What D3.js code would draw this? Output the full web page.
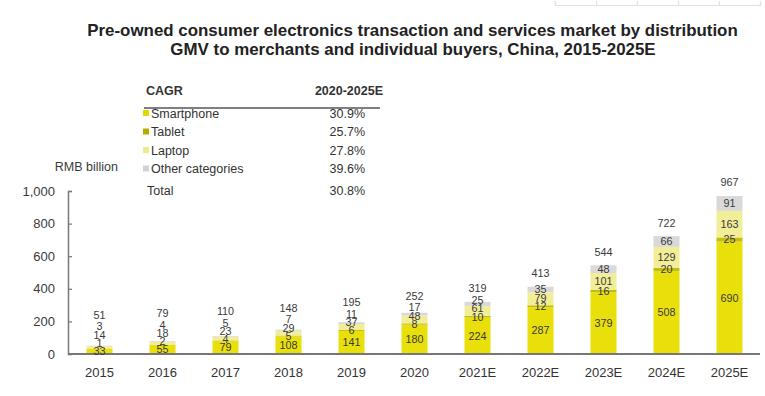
<!DOCTYPE html>
<html><head><meta charset="utf-8">
<script src="https://cdn.jsdelivr.net/npm/d3@7"></script>
<style>
html,body{margin:0;padding:0;background:#fff;}
svg{display:block;font-family:"Liberation Sans",Arial,Helvetica,sans-serif;}
</style></head>
<body>
<svg id="chart" width="765" height="396"></svg>
<script>
const categories = ["2015","2016","2017","2018","2019","2020","2021E","2022E","2023E","2024E","2025E"];
const smartphone = [33,55,79,108,141,180,224,287,379,508,690];
const tablet     = [1,2,4,5,6,8,10,12,16,20,25];
const laptop     = [14,18,23,29,37,48,61,79,101,129,163];
const other      = [3,4,5,7,11,17,25,35,48,66,91];
const totals     = [51,79,110,148,195,252,319,413,544,722,967];
const seriesNames = ["Smartphone","Tablet","Laptop","Other categories"];
const cagr = ["30.9%","25.7%","27.8%","39.6%"];
const cagrTotal = "30.8%";
const yTicks = [0,200,400,600,800,1000];

const colors = ["#e9df0a","#c2bd0e","#f2ee98","#d9d9d9"];
const legendColors = ["#e3d800","#b3ad00","#eeea8a","#d2d2d2"];

const svg = d3.select("#chart");
const x = d3.scaleBand().domain(categories).range([68,761]).paddingInner(0.587).paddingOuter(0.2935);
const y = d3.scaleLinear().domain([0,1000]).range([354,191]);

// faint decoration at top right
const deco = d3.scaleLinear().domain([0,5]).range([555,760]);
const dg = svg.append("g").attr("transform","translate(0,5)");
dg.call(d3.axisTop(deco).ticks(5).tickSize(4).tickFormat(""));
dg.selectAll("path,line").attr("stroke","#e2e2e2").attr("stroke-width",1.2);

// title
svg.append("text").attr("x",412.5).attr("y",36).attr("text-anchor","middle")
  .attr("font-size",16.9).attr("font-weight","bold").attr("fill","#222")
  .text("Pre-owned consumer electronics transaction and services market by distribution");
svg.append("text").attr("x",413).attr("y",54.5).attr("text-anchor","middle")
  .attr("font-size",16.9).attr("font-weight","bold").attr("fill","#222")
  .text("GMV to merchants and individual buyers, China, 2015-2025E");

// y axis
const ya = svg.append("g").attr("transform","translate(68,0)")
  .call(d3.axisRight(y).tickValues(yTicks).tickSize(4).tickFormat(""));
ya.select(".domain").attr("stroke","#777").attr("stroke-width",1.5);
ya.selectAll(".tick line").attr("stroke","#777").attr("stroke-width",1.2);
svg.append("g").selectAll("text").data(yTicks).join("text")
  .attr("x",55).attr("y",d=>y(d)).attr("dy","0.36em").attr("text-anchor","end")
  .attr("font-size",13).attr("fill","#3a3a3a").text(d=>d3.format(",")(d));
svg.append("text").attr("x",118).attr("y",171).attr("text-anchor","end")
  .attr("font-size",12.5).attr("fill","#3a3a3a").text("RMB billion");

// stacked bars
const rows = categories.map((c,i)=>({cat:c, Smartphone:smartphone[i], Tablet:tablet[i], Laptop:laptop[i], "Other categories":other[i], total:totals[i]}));
const stack = d3.stack().keys(seriesNames)(rows);
const gBars = svg.append("g");
stack.forEach((layer,k)=>{
  gBars.selectAll(null).data(layer).join("rect")
    .attr("x",d=>x(d.data.cat)).attr("width",x.bandwidth())
    .attr("y",d=>y(d[1])).attr("height",d=>y(d[0])-y(d[1]))
    .attr("fill",colors[k]);
});

// baseline
svg.append("line").attr("x1",68).attr("x2",760).attr("y1",y(0)).attr("y2",y(0))
  .attr("stroke","#777").attr("stroke-width",2);

// labels
const gLab = svg.append("g").attr("font-size",10.8).attr("fill","#3a3a3a").attr("text-anchor","middle");
rows.forEach((r,i)=>{
  const cx = x(r.cat)+x.bandwidth()/2;
  let prev = null;
  stack.forEach((layer,k)=>{
    const d = layer[i];
    let py = y((d[0]+d[1])/2);
    if(prev!==null) py = Math.min(py, prev-8.3);
    prev = py;
    gLab.append("text").attr("x",cx).attr("y",py).attr("dy","0.36em").text(d.data[seriesNames[k]]);
  });
  const top = y(stack[stack.length-1][i][1]);
  const ty = Math.min(top-13.5, prev-11.5);
  gLab.append("text").attr("x",cx).attr("y",ty).attr("dy","0.36em").text(r.total);
});

// x axis labels
svg.append("g").selectAll("text").data(categories).join("text")
  .attr("x",d=>x(d)+x.bandwidth()/2).attr("y",377).attr("text-anchor","middle")
  .attr("font-size",13).attr("fill","#333").text(d=>d);

// CAGR table
const lt = svg.append("g").attr("fill","#333");
lt.append("text").attr("x",146).attr("y",95).attr("font-size",12.5).attr("font-weight","bold").text("CAGR");
lt.append("text").attr("x",383).attr("y",95).attr("text-anchor","end").attr("font-size",12.5).attr("font-weight","bold").text("2020-2025E");
lt.append("line").attr("x1",144).attr("x2",380).attr("y1",108).attr("y2",108).attr("stroke","#555").attr("stroke-width",1.5);
seriesNames.forEach((s,k)=>{
  const yy = 113 + k*18.5;
  lt.append("rect").attr("x",143).attr("y",yy-3).attr("width",6).attr("height",6).attr("fill",legendColors[k]);
  lt.append("text").attr("x",151).attr("y",yy).attr("dy","0.36em").attr("font-size",12.5).text(s);
  lt.append("text").attr("x",365).attr("y",yy).attr("dy","0.36em").attr("text-anchor","end").attr("font-size",12.5).text(cagr[k]);
});
lt.append("text").attr("x",147).attr("y",190).attr("dy","0.36em").attr("font-size",12.5).text("Total");
lt.append("text").attr("x",365).attr("y",190).attr("dy","0.36em").attr("text-anchor","end").attr("font-size",12.5).text(cagrTotal);
</script>
</body></html>
